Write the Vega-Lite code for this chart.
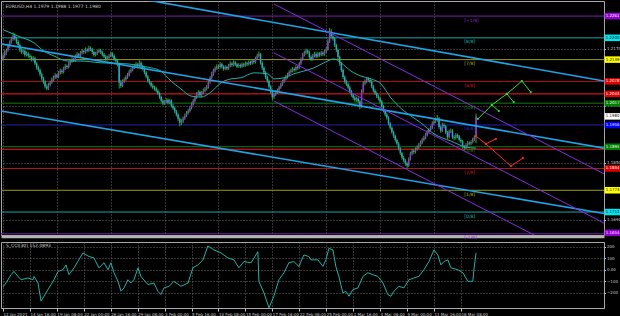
{
"$schema":"https://vega.github.io/schema/vega-lite/v6.json",
"background":"#000000",
"padding":{"left":0,"top":0,"right":0,"bottom":4},
"spacing":0,
"config":{"view":{"stroke":"#a8a8a8","strokeWidth":1},
"axis":{"gridColor":"#8a8a8a","gridDash":[1,2],"gridOpacity":0.75,"labelColor":"#c8c8c8","labelFont":"DejaVu Sans","labelFontSize":4,"tickColor":"#c8c8c8","domainColor":"#a8a8a8"}},
"datasets":{
"px":[
{"b":0,"o":1.2140,"h":1.2156,"l":1.2135,"c":1.2149},{"b":1,"o":1.2149,"h":1.2165,"l":1.2144,"c":1.2158},{"b":2,"o":1.2158,"h":1.2170,"l":1.2152,"c":1.2166},{"b":3,"o":1.2166,"h":1.2184,"l":1.2161,"c":1.2177},{"b":4,"o":1.2177,"h":1.2193,"l":1.2172,"c":1.2188},{"b":5,"o":1.2188,"h":1.2203,"l":1.2184,"c":1.2197},{"b":6,"o":1.2197,"h":1.2215,"l":1.2192,"c":1.2206},{"b":7,"o":1.2206,"h":1.2212,"l":1.2193,"c":1.2198},{"b":8,"o":1.2198,"h":1.2203,"l":1.2183,"c":1.2189},{"b":9,"o":1.2189,"h":1.2194,"l":1.2174,"c":1.2180},
{"b":10,"o":1.2180,"h":1.2184,"l":1.2160,"c":1.2166},{"b":11,"o":1.2166,"h":1.2171,"l":1.2155,"c":1.2160},{"b":12,"o":1.2160,"h":1.2169,"l":1.2154,"c":1.2163},{"b":13,"o":1.2163,"h":1.2167,"l":1.2147,"c":1.2152},{"b":14,"o":1.2152,"h":1.2162,"l":1.2148,"c":1.2156},{"b":15,"o":1.2156,"h":1.2160,"l":1.2144,"c":1.2150},{"b":16,"o":1.2150,"h":1.2155,"l":1.2141,"c":1.2146},{"b":17,"o":1.2146,"h":1.2150,"l":1.2134,"c":1.2140},{"b":18,"o":1.2140,"h":1.2149,"l":1.2135,"c":1.2143},{"b":19,"o":1.2143,"h":1.2147,"l":1.2123,"c":1.2128},
{"b":20,"o":1.2128,"h":1.2132,"l":1.2111,"c":1.2117},{"b":21,"o":1.2117,"h":1.2122,"l":1.2105,"c":1.2110},{"b":22,"o":1.2110,"h":1.2114,"l":1.2092,"c":1.2098},{"b":23,"o":1.2098,"h":1.2103,"l":1.2080,"c":1.2086},{"b":24,"o":1.2086,"h":1.2091,"l":1.2071,"c":1.2077},{"b":25,"o":1.2077,"h":1.2081,"l":1.2058,"c":1.2064},{"b":26,"o":1.2064,"h":1.2070,"l":1.2053,"c":1.2058},{"b":27,"o":1.2058,"h":1.2074,"l":1.2054,"c":1.2069},{"b":28,"o":1.2069,"h":1.2080,"l":1.2064,"c":1.2075},{"b":29,"o":1.2075,"h":1.2089,"l":1.2071,"c":1.2083},
{"b":30,"o":1.2083,"h":1.2094,"l":1.2078,"c":1.2088},{"b":31,"o":1.2088,"h":1.2101,"l":1.2084,"c":1.2095},{"b":32,"o":1.2095,"h":1.2099,"l":1.2086,"c":1.2091},{"b":33,"o":1.2091,"h":1.2107,"l":1.2087,"c":1.2102},{"b":34,"o":1.2102,"h":1.2114,"l":1.2097,"c":1.2108},{"b":35,"o":1.2108,"h":1.2112,"l":1.2099,"c":1.2104},{"b":36,"o":1.2104,"h":1.2119,"l":1.2100,"c":1.2114},{"b":37,"o":1.2114,"h":1.2127,"l":1.2110,"c":1.2121},{"b":38,"o":1.2121,"h":1.2125,"l":1.2113,"c":1.2118},{"b":39,"o":1.2118,"h":1.2133,"l":1.2114,"c":1.2128},
{"b":40,"o":1.2128,"h":1.2140,"l":1.2123,"c":1.2134},{"b":41,"o":1.2134,"h":1.2146,"l":1.2130,"c":1.2140},{"b":42,"o":1.2140,"h":1.2144,"l":1.2132,"c":1.2137},{"b":43,"o":1.2137,"h":1.2153,"l":1.2133,"c":1.2148},{"b":44,"o":1.2148,"h":1.2160,"l":1.2143,"c":1.2154},{"b":45,"o":1.2154,"h":1.2158,"l":1.2145,"c":1.2150},{"b":46,"o":1.2150,"h":1.2163,"l":1.2146,"c":1.2158},{"b":47,"o":1.2158,"h":1.2169,"l":1.2153,"c":1.2163},{"b":48,"o":1.2163,"h":1.2167,"l":1.2155,"c":1.2160},{"b":49,"o":1.2160,"h":1.2173,"l":1.2156,"c":1.2167},
{"b":50,"o":1.2167,"h":1.2171,"l":1.2159,"c":1.2164},{"b":51,"o":1.2164,"h":1.2178,"l":1.2160,"c":1.2171},{"b":52,"o":1.2171,"h":1.2176,"l":1.2163,"c":1.2168},{"b":53,"o":1.2168,"h":1.2172,"l":1.2155,"c":1.2160},{"b":54,"o":1.2160,"h":1.2164,"l":1.2147,"c":1.2152},{"b":55,"o":1.2152,"h":1.2161,"l":1.2148,"c":1.2156},{"b":56,"o":1.2156,"h":1.2166,"l":1.2152,"c":1.2161},{"b":57,"o":1.2161,"h":1.2170,"l":1.2157,"c":1.2165},{"b":58,"o":1.2165,"h":1.2169,"l":1.2155,"c":1.2160},{"b":59,"o":1.2160,"h":1.2164,"l":1.2148,"c":1.2153},
{"b":60,"o":1.2153,"h":1.2157,"l":1.2143,"c":1.2148},{"b":61,"o":1.2148,"h":1.2152,"l":1.2136,"c":1.2141},{"b":62,"o":1.2141,"h":1.2150,"l":1.2137,"c":1.2145},{"b":63,"o":1.2145,"h":1.2155,"l":1.2141,"c":1.2150},{"b":64,"o":1.2150,"h":1.2161,"l":1.2146,"c":1.2156},{"b":65,"o":1.2156,"h":1.2160,"l":1.2145,"c":1.2150},{"b":66,"o":1.2150,"h":1.2154,"l":1.2136,"c":1.2141},{"b":67,"o":1.2141,"h":1.2145,"l":1.2130,"c":1.2135},{"b":68,"o":1.2135,"h":1.2139,"l":1.2120,"c":1.2126},{"b":69,"o":1.2126,"h":1.2130,"l":1.2058,"c":1.2075},
{"b":70,"o":1.2075,"h":1.2082,"l":1.2060,"c":1.2066},{"b":71,"o":1.2066,"h":1.2084,"l":1.2062,"c":1.2079},{"b":72,"o":1.2079,"h":1.2089,"l":1.2074,"c":1.2083},{"b":73,"o":1.2083,"h":1.2095,"l":1.2079,"c":1.2090},{"b":74,"o":1.2090,"h":1.2102,"l":1.2085,"c":1.2096},{"b":75,"o":1.2096,"h":1.2111,"l":1.2092,"c":1.2106},{"b":76,"o":1.2106,"h":1.2116,"l":1.2101,"c":1.2110},{"b":77,"o":1.2110,"h":1.2122,"l":1.2106,"c":1.2117},{"b":78,"o":1.2117,"h":1.2127,"l":1.2112,"c":1.2121},{"b":79,"o":1.2121,"h":1.2132,"l":1.2117,"c":1.2126},
{"b":80,"o":1.2126,"h":1.2130,"l":1.2117,"c":1.2122},{"b":81,"o":1.2122,"h":1.2137,"l":1.2118,"c":1.2130},{"b":82,"o":1.2130,"h":1.2134,"l":1.2115,"c":1.2120},{"b":83,"o":1.2120,"h":1.2125,"l":1.2109,"c":1.2114},{"b":84,"o":1.2114,"h":1.2118,"l":1.2098,"c":1.2103},{"b":85,"o":1.2103,"h":1.2107,"l":1.2087,"c":1.2092},{"b":86,"o":1.2092,"h":1.2096,"l":1.2075,"c":1.2080},{"b":87,"o":1.2080,"h":1.2085,"l":1.2069,"c":1.2074},{"b":88,"o":1.2074,"h":1.2078,"l":1.2061,"c":1.2066},{"b":89,"o":1.2066,"h":1.2071,"l":1.2056,"c":1.2061},
{"b":90,"o":1.2061,"h":1.2066,"l":1.2052,"c":1.2058},{"b":91,"o":1.2058,"h":1.2063,"l":1.2047,"c":1.2052},{"b":92,"o":1.2052,"h":1.2056,"l":1.2040,"c":1.2045},{"b":93,"o":1.2045,"h":1.2049,"l":1.2029,"c":1.2034},{"b":94,"o":1.2034,"h":1.2038,"l":1.2019,"c":1.2024},{"b":95,"o":1.2024,"h":1.2028,"l":1.2011,"c":1.2016},{"b":96,"o":1.2016,"h":1.2026,"l":1.2012,"c":1.2021},{"b":97,"o":1.2021,"h":1.2031,"l":1.2017,"c":1.2026},{"b":98,"o":1.2026,"h":1.2030,"l":1.2013,"c":1.2018},{"b":99,"o":1.2018,"h":1.2029,"l":1.2014,"c":1.2024},
{"b":100,"o":1.2024,"h":1.2028,"l":1.2005,"c":1.2010},{"b":101,"o":1.2010,"h":1.2015,"l":1.1998,"c":1.2003},{"b":102,"o":1.2003,"h":1.2007,"l":1.1989,"c":1.1994},{"b":103,"o":1.1994,"h":1.1998,"l":1.1980,"c":1.1985},{"b":104,"o":1.1985,"h":1.1989,"l":1.1967,"c":1.1973},{"b":105,"o":1.1973,"h":1.1977,"l":1.1952,"c":1.1962},{"b":106,"o":1.1962,"h":1.1972,"l":1.1956,"c":1.1966},{"b":107,"o":1.1966,"h":1.1980,"l":1.1961,"c":1.1975},{"b":108,"o":1.1975,"h":1.1988,"l":1.1970,"c":1.1982},{"b":109,"o":1.1982,"h":1.1995,"l":1.1978,"c":1.1989},
{"b":110,"o":1.1989,"h":1.2001,"l":1.1985,"c":1.1995},{"b":111,"o":1.1995,"h":1.2008,"l":1.1991,"c":1.2003},{"b":112,"o":1.2003,"h":1.2019,"l":1.1999,"c":1.2014},{"b":113,"o":1.2014,"h":1.2029,"l":1.2010,"c":1.2023},{"b":114,"o":1.2023,"h":1.2038,"l":1.2019,"c":1.2033},{"b":115,"o":1.2033,"h":1.2048,"l":1.2029,"c":1.2042},{"b":116,"o":1.2042,"h":1.2054,"l":1.2037,"c":1.2048},{"b":117,"o":1.2048,"h":1.2052,"l":1.2034,"c":1.2039},{"b":118,"o":1.2039,"h":1.2051,"l":1.2035,"c":1.2046},{"b":119,"o":1.2046,"h":1.2058,"l":1.2042,"c":1.2052},
{"b":120,"o":1.2052,"h":1.2063,"l":1.2047,"c":1.2057},{"b":121,"o":1.2057,"h":1.2068,"l":1.2052,"c":1.2062},{"b":122,"o":1.2062,"h":1.2081,"l":1.2058,"c":1.2076},{"b":123,"o":1.2076,"h":1.2093,"l":1.2071,"c":1.2088},{"b":124,"o":1.2088,"h":1.2105,"l":1.2084,"c":1.2099},{"b":125,"o":1.2099,"h":1.2114,"l":1.2094,"c":1.2108},{"b":126,"o":1.2108,"h":1.2120,"l":1.2103,"c":1.2114},{"b":127,"o":1.2114,"h":1.2126,"l":1.2110,"c":1.2120},{"b":128,"o":1.2120,"h":1.2125,"l":1.2113,"c":1.2118},{"b":129,"o":1.2118,"h":1.2132,"l":1.2114,"c":1.2126},
{"b":130,"o":1.2126,"h":1.2130,"l":1.2114,"c":1.2119},{"b":131,"o":1.2119,"h":1.2123,"l":1.2108,"c":1.2113},{"b":132,"o":1.2113,"h":1.2123,"l":1.2109,"c":1.2118},{"b":133,"o":1.2118,"h":1.2122,"l":1.2109,"c":1.2114},{"b":134,"o":1.2114,"h":1.2127,"l":1.2110,"c":1.2122},{"b":135,"o":1.2122,"h":1.2134,"l":1.2117,"c":1.2128},{"b":136,"o":1.2128,"h":1.2132,"l":1.2119,"c":1.2124},{"b":137,"o":1.2124,"h":1.2137,"l":1.2120,"c":1.2131},{"b":138,"o":1.2131,"h":1.2135,"l":1.2121,"c":1.2126},{"b":139,"o":1.2126,"h":1.2130,"l":1.2115,"c":1.2120},
{"b":140,"o":1.2120,"h":1.2129,"l":1.2116,"c":1.2124},{"b":141,"o":1.2124,"h":1.2128,"l":1.2115,"c":1.2120},{"b":142,"o":1.2120,"h":1.2131,"l":1.2116,"c":1.2126},{"b":143,"o":1.2126,"h":1.2130,"l":1.2118,"c":1.2123},{"b":144,"o":1.2123,"h":1.2134,"l":1.2119,"c":1.2129},{"b":145,"o":1.2129,"h":1.2133,"l":1.2121,"c":1.2126},{"b":146,"o":1.2126,"h":1.2137,"l":1.2122,"c":1.2132},{"b":147,"o":1.2132,"h":1.2136,"l":1.2124,"c":1.2129},{"b":148,"o":1.2129,"h":1.2141,"l":1.2125,"c":1.2136},{"b":149,"o":1.2136,"h":1.2140,"l":1.2127,"c":1.2132},
{"b":150,"o":1.2132,"h":1.2147,"l":1.2128,"c":1.2142},{"b":151,"o":1.2142,"h":1.2156,"l":1.2138,"c":1.2150},{"b":152,"o":1.2150,"h":1.2162,"l":1.2145,"c":1.2154},{"b":153,"o":1.2154,"h":1.2158,"l":1.2125,"c":1.2130},{"b":154,"o":1.2130,"h":1.2134,"l":1.2110,"c":1.2116},{"b":155,"o":1.2116,"h":1.2120,"l":1.2097,"c":1.2103},{"b":156,"o":1.2103,"h":1.2107,"l":1.2084,"c":1.2090},{"b":157,"o":1.2090,"h":1.2094,"l":1.2074,"c":1.2080},{"b":158,"o":1.2080,"h":1.2084,"l":1.2058,"c":1.2064},{"b":159,"o":1.2064,"h":1.2068,"l":1.2044,"c":1.2050},
{"b":160,"o":1.2050,"h":1.2054,"l":1.2025,"c":1.2034},{"b":161,"o":1.2034,"h":1.2047,"l":1.2029,"c":1.2042},{"b":162,"o":1.2042,"h":1.2053,"l":1.2037,"c":1.2048},{"b":163,"o":1.2048,"h":1.2058,"l":1.2043,"c":1.2053},{"b":164,"o":1.2053,"h":1.2066,"l":1.2049,"c":1.2061},{"b":165,"o":1.2061,"h":1.2074,"l":1.2057,"c":1.2069},{"b":166,"o":1.2069,"h":1.2083,"l":1.2065,"c":1.2078},{"b":167,"o":1.2078,"h":1.2089,"l":1.2073,"c":1.2084},{"b":168,"o":1.2084,"h":1.2096,"l":1.2080,"c":1.2091},{"b":169,"o":1.2091,"h":1.2102,"l":1.2086,"c":1.2096},
{"b":170,"o":1.2096,"h":1.2109,"l":1.2092,"c":1.2104},{"b":171,"o":1.2104,"h":1.2114,"l":1.2099,"c":1.2108},{"b":172,"o":1.2108,"h":1.2118,"l":1.2103,"c":1.2113},{"b":173,"o":1.2113,"h":1.2117,"l":1.2105,"c":1.2110},{"b":174,"o":1.2110,"h":1.2123,"l":1.2106,"c":1.2118},{"b":175,"o":1.2118,"h":1.2122,"l":1.2111,"c":1.2116},{"b":176,"o":1.2116,"h":1.2133,"l":1.2112,"c":1.2128},{"b":177,"o":1.2128,"h":1.2145,"l":1.2124,"c":1.2140},{"b":178,"o":1.2140,"h":1.2158,"l":1.2136,"c":1.2153},{"b":179,"o":1.2153,"h":1.2164,"l":1.2148,"c":1.2158},
{"b":180,"o":1.2158,"h":1.2170,"l":1.2153,"c":1.2164},{"b":181,"o":1.2164,"h":1.2168,"l":1.2155,"c":1.2160},{"b":182,"o":1.2160,"h":1.2164,"l":1.2141,"c":1.2146},{"b":183,"o":1.2146,"h":1.2151,"l":1.2135,"c":1.2140},{"b":184,"o":1.2140,"h":1.2155,"l":1.2136,"c":1.2150},{"b":185,"o":1.2150,"h":1.2161,"l":1.2145,"c":1.2155},{"b":186,"o":1.2155,"h":1.2159,"l":1.2143,"c":1.2148},{"b":187,"o":1.2148,"h":1.2161,"l":1.2144,"c":1.2156},{"b":188,"o":1.2156,"h":1.2160,"l":1.2147,"c":1.2152},{"b":189,"o":1.2152,"h":1.2163,"l":1.2148,"c":1.2158},
{"b":190,"o":1.2158,"h":1.2162,"l":1.2149,"c":1.2154},{"b":191,"o":1.2154,"h":1.2167,"l":1.2150,"c":1.2162},{"b":192,"o":1.2162,"h":1.2174,"l":1.2157,"c":1.2168},{"b":193,"o":1.2168,"h":1.2196,"l":1.2164,"c":1.2190},{"b":194,"o":1.2190,"h":1.2228,"l":1.2186,"c":1.2218},{"b":195,"o":1.2218,"h":1.2224,"l":1.2198,"c":1.2204},{"b":196,"o":1.2204,"h":1.2210,"l":1.2192,"c":1.2198},{"b":197,"o":1.2198,"h":1.2202,"l":1.2174,"c":1.2180},{"b":198,"o":1.2180,"h":1.2184,"l":1.2160,"c":1.2166},{"b":199,"o":1.2166,"h":1.2170,"l":1.2140,"c":1.2146},
{"b":200,"o":1.2146,"h":1.2150,"l":1.2122,"c":1.2128},{"b":201,"o":1.2128,"h":1.2132,"l":1.2104,"c":1.2110},{"b":202,"o":1.2110,"h":1.2114,"l":1.2084,"c":1.2090},{"b":203,"o":1.2090,"h":1.2095,"l":1.2072,"c":1.2078},{"b":204,"o":1.2078,"h":1.2083,"l":1.2065,"c":1.2070},{"b":205,"o":1.2070,"h":1.2075,"l":1.2056,"c":1.2061},{"b":206,"o":1.2061,"h":1.2065,"l":1.2045,"c":1.2050},{"b":207,"o":1.2050,"h":1.2054,"l":1.2035,"c":1.2040},{"b":208,"o":1.2040,"h":1.2045,"l":1.2027,"c":1.2032},{"b":209,"o":1.2032,"h":1.2037,"l":1.2021,"c":1.2026},
{"b":210,"o":1.2026,"h":1.2035,"l":1.2021,"c":1.2030},{"b":211,"o":1.2030,"h":1.2034,"l":1.2017,"c":1.2022},{"b":212,"o":1.2022,"h":1.2026,"l":1.2000,"c":1.2008},{"b":213,"o":1.2008,"h":1.2056,"l":1.2004,"c":1.2050},{"b":214,"o":1.2050,"h":1.2078,"l":1.2046,"c":1.2072},{"b":215,"o":1.2072,"h":1.2084,"l":1.2067,"c":1.2078},{"b":216,"o":1.2078,"h":1.2090,"l":1.2073,"c":1.2086},{"b":217,"o":1.2086,"h":1.2090,"l":1.2077,"c":1.2082},{"b":218,"o":1.2082,"h":1.2087,"l":1.2073,"c":1.2078},{"b":219,"o":1.2078,"h":1.2082,"l":1.2059,"c":1.2064},
{"b":220,"o":1.2064,"h":1.2068,"l":1.2047,"c":1.2052},{"b":221,"o":1.2052,"h":1.2057,"l":1.2040,"c":1.2045},{"b":222,"o":1.2045,"h":1.2049,"l":1.2031,"c":1.2036},{"b":223,"o":1.2036,"h":1.2041,"l":1.2025,"c":1.2030},{"b":224,"o":1.2030,"h":1.2035,"l":1.2017,"c":1.2022},{"b":225,"o":1.2022,"h":1.2026,"l":1.2003,"c":1.2008},{"b":226,"o":1.2008,"h":1.2012,"l":1.1991,"c":1.1996},{"b":227,"o":1.1996,"h":1.2000,"l":1.1980,"c":1.1985},{"b":228,"o":1.1985,"h":1.1990,"l":1.1971,"c":1.1976},{"b":229,"o":1.1976,"h":1.1980,"l":1.1955,"c":1.1960},
{"b":230,"o":1.1960,"h":1.1964,"l":1.1943,"c":1.1948},{"b":231,"o":1.1948,"h":1.1952,"l":1.1931,"c":1.1936},{"b":232,"o":1.1936,"h":1.1940,"l":1.1920,"c":1.1925},{"b":233,"o":1.1925,"h":1.1929,"l":1.1909,"c":1.1914},{"b":234,"o":1.1914,"h":1.1918,"l":1.1899,"c":1.1904},{"b":235,"o":1.1904,"h":1.1908,"l":1.1885,"c":1.1890},{"b":236,"o":1.1890,"h":1.1894,"l":1.1872,"c":1.1877},{"b":237,"o":1.1877,"h":1.1881,"l":1.1859,"c":1.1864},{"b":238,"o":1.1864,"h":1.1869,"l":1.1851,"c":1.1856},{"b":239,"o":1.1856,"h":1.1861,"l":1.1842,"c":1.1848},
{"b":240,"o":1.1848,"h":1.1853,"l":1.1834,"c":1.1842},{"b":241,"o":1.1842,"h":1.1865,"l":1.1838,"c":1.1860},{"b":242,"o":1.1860,"h":1.1881,"l":1.1856,"c":1.1876},{"b":243,"o":1.1876,"h":1.1889,"l":1.1871,"c":1.1883},{"b":244,"o":1.1883,"h":1.1888,"l":1.1875,"c":1.1880},{"b":245,"o":1.1880,"h":1.1893,"l":1.1876,"c":1.1888},{"b":246,"o":1.1888,"h":1.1899,"l":1.1884,"c":1.1893},{"b":247,"o":1.1893,"h":1.1906,"l":1.1889,"c":1.1900},{"b":248,"o":1.1900,"h":1.1912,"l":1.1896,"c":1.1906},{"b":249,"o":1.1906,"h":1.1920,"l":1.1902,"c":1.1914},
{"b":250,"o":1.1914,"h":1.1926,"l":1.1910,"c":1.1920},{"b":251,"o":1.1920,"h":1.1934,"l":1.1916,"c":1.1928},{"b":252,"o":1.1928,"h":1.1942,"l":1.1924,"c":1.1936},{"b":253,"o":1.1936,"h":1.1948,"l":1.1932,"c":1.1942},{"b":254,"o":1.1942,"h":1.1954,"l":1.1938,"c":1.1948},{"b":255,"o":1.1948,"h":1.1966,"l":1.1944,"c":1.1960},{"b":256,"o":1.1960,"h":1.1972,"l":1.1956,"c":1.1966},{"b":257,"o":1.1966,"h":1.1977,"l":1.1961,"c":1.1970},{"b":258,"o":1.1970,"h":1.1984,"l":1.1965,"c":1.1974},{"b":259,"o":1.1974,"h":1.1978,"l":1.1945,"c":1.1950},
{"b":260,"o":1.1950,"h":1.1955,"l":1.1934,"c":1.1940},{"b":261,"o":1.1940,"h":1.1962,"l":1.1936,"c":1.1956},{"b":262,"o":1.1956,"h":1.1961,"l":1.1947,"c":1.1952},{"b":263,"o":1.1952,"h":1.1956,"l":1.1930,"c":1.1935},{"b":264,"o":1.1935,"h":1.1939,"l":1.1917,"c":1.1922},{"b":265,"o":1.1922,"h":1.1943,"l":1.1918,"c":1.1938},{"b":266,"o":1.1938,"h":1.1946,"l":1.1933,"c":1.1940},{"b":267,"o":1.1940,"h":1.1944,"l":1.1917,"c":1.1922},{"b":268,"o":1.1922,"h":1.1927,"l":1.1914,"c":1.1920},{"b":269,"o":1.1920,"h":1.1933,"l":1.1915,"c":1.1928},
{"b":270,"o":1.1928,"h":1.1932,"l":1.1919,"c":1.1924},{"b":271,"o":1.1924,"h":1.1928,"l":1.1909,"c":1.1914},{"b":272,"o":1.1914,"h":1.1919,"l":1.1905,"c":1.1910},{"b":273,"o":1.1910,"h":1.1914,"l":1.1890,"c":1.1895},{"b":274,"o":1.1895,"h":1.1900,"l":1.1886,"c":1.1892},{"b":275,"o":1.1892,"h":1.1905,"l":1.1888,"c":1.1900},{"b":276,"o":1.1900,"h":1.1911,"l":1.1896,"c":1.1906},{"b":277,"o":1.1906,"h":1.1910,"l":1.1899,"c":1.1904},{"b":278,"o":1.1904,"h":1.1913,"l":1.1899,"c":1.1908},{"b":279,"o":1.1908,"h":1.1920,"l":1.1904,"c":1.1915},
{"b":280,"o":1.1915,"h":1.1927,"l":1.1911,"c":1.1922},{"b":281,"o":1.1922,"h":1.1988,"l":1.1905,"c":1.1980}
],
"ma":[
{"b":0,"p":1.2223},{"b":8.9,"p":1.2205},{"b":18.4,"p":1.2186},{"b":24.3,"p":1.2163},{"b":30.3,"p":1.2149},{"b":38.6,"p":1.2135},{"b":46.3,"p":1.2135},{"b":58.2,"p":1.2130},{"b":74.2,"p":1.2127},{"b":81.9,"p":1.2121},{"b":87.9,"p":1.2116},{"b":93.8,"p":1.2107},{"b":99.8,"p":1.2079},{"b":105.7,"p":1.2057},{"b":111.6,"p":1.2037},{"b":117.6,"p":1.2034},{"b":123.5,"p":1.2048},{"b":129.5,"p":1.2074},{"b":135.4,"p":1.2085},{"b":141.3,"p":1.2088},{"b":149,"p":1.2102},{"b":157.4,"p":1.2099},{"b":160.9,"p":1.2085},{"b":166.9,"p":1.2088},{"b":172.8,"p":1.2099},{"b":178.7,"p":1.2107},{"b":184.7,"p":1.2116},{"b":190.6,"p":1.2130},{"b":196.6,"p":1.2141},{"b":200.7,"p":1.2130},{"b":206.7,"p":1.2107},{"b":212.6,"p":1.2093},{"b":218.5,"p":1.2085},{"b":224.5,"p":1.2071},{"b":230.4,"p":1.2032},{"b":236.3,"p":1.2003},{"b":242.3,"p":1.1981},{"b":248.2,"p":1.1962},{"b":256,"p":1.1931},{"b":266,"p":1.1911},{"b":274.9,"p":1.1894},{"b":280.9,"p":1.1891}
],
"tl":[
{"id":"A","b":81.9,"p":1.2309},{"id":"A","b":357,"p":1.2079},
{"id":"B","b":-1.2,"p":1.2183},{"id":"B","b":357,"p":1.1891},
{"id":"C","b":-1.2,"p":1.1995},{"id":"C","b":357,"p":1.1708}
],
"ch":[
{"id":"P1","b":160.9,"p":1.2295},{"id":"P1","b":357,"p":1.1819},
{"id":"P2","b":160.9,"p":1.2158},{"id":"P2","b":357,"p":1.1681},
{"id":"P3","b":160.9,"p":1.2023},{"id":"P3","b":357,"p":1.1547}
],
"fc":[
{"id":"g1","b":282.1,"p":1.1973},{"id":"g1","b":290.4,"p":1.2012},{"id":"g1","b":299.3,"p":1.2043},{"id":"g1","b":308.2,"p":1.2079},{"id":"g1","b":313.5,"p":1.2048},
{"id":"g2","b":290.4,"p":1.2012},{"id":"g2","b":294.5,"p":1.1995},
{"id":"g3","b":299.3,"p":1.2043},{"id":"g3","b":303.4,"p":1.2020},
{"id":"r1","b":280.9,"p":1.1925},{"id":"r1","b":286.8,"p":1.1903},{"id":"r1","b":292.8,"p":1.1917},
{"id":"r2","b":286.8,"p":1.1903},{"id":"r2","b":301.7,"p":1.1841},{"id":"r2","b":308.8,"p":1.1863}
],
"lv":[
{"n":"+1/8","t":"[+1/8]","p":1.2261},{"n":"8/8","t":"[8/8]","p":1.2200},{"n":"7/8","t":"[7/8]","p":1.2139},{"n":"6/8","t":"[6/8]","p":1.2078},{"n":"5/8","t":"[5/8]","p":1.2017},{"n":"4/8","t":"[4/8]","p":1.1956},{"n":"3/8","t":"[3/8]","p":1.1895},{"n":"2/8","t":"[2/8]","p":1.1834},{"n":"1/8","t":"[1/8]","p":1.1773},{"n":"0/8","t":"[0/8]","p":1.1712},{"n":"-1/8","t":"[-1/8]","p":1.1651},{"n":"R1","t":"","p":1.2043},{"n":"R2","t":"","p":1.1888}
],
"bx":[
{"n":"+1/8","p":1.2261},{"n":"8/8","p":1.2200},{"n":"7/8","p":1.2139},{"n":"6/8","p":1.2078},{"n":"R1","p":1.2043},{"n":"5/8","p":1.2017},{"n":"cur","p":1.1980},{"n":"4/8","p":1.1956},{"n":"3/8","p":1.1895},{"n":"2/8","p":1.1834},{"n":"1/8","p":1.1773},{"n":"0/8","p":1.1712},{"n":"-1/8","p":1.1654}
],
"cci":[
{"b":0,"v":-150},{"b":1.8,"v":-115},{"b":4.8,"v":-43},{"b":6.5,"v":-14},{"b":8.9,"v":-58},{"b":10.7,"v":-87},{"b":14.8,"v":-72},{"b":17.8,"v":-87},{"b":18.4,"v":-58},{"b":20.8,"v":-116},{"b":22.6,"v":-275},{"b":26.7,"v":-174},{"b":30.3,"v":-87},{"b":32.7,"v":-14},{"b":35.6,"v":0},{"b":37.4,"v":43},{"b":39.2,"v":-43},{"b":42.2,"v":17},{"b":47.5,"v":148},{"b":51.1,"v":116},{"b":54,"v":104},{"b":57,"v":17},{"b":60,"v":61},{"b":62.4,"v":0},{"b":64.1,"v":61},{"b":65.9,"v":-26},{"b":68.3,"v":-101},{"b":70.1,"v":-188},{"b":71.9,"v":-159},{"b":74.2,"v":-87},{"b":76,"v":-116},{"b":77.8,"v":-87},{"b":80.2,"v":17},{"b":81.9,"v":-58},{"b":86.1,"v":-130},{"b":89.7,"v":-116},{"b":92,"v":-188},{"b":93.8,"v":-217},{"b":95.6,"v":-159},{"b":98.6,"v":-145},{"b":101.5,"v":-101},{"b":105.7,"v":-145},{"b":109.9,"v":-116},{"b":112.8,"v":17},{"b":115.8,"v":43},{"b":118.8,"v":87},{"b":121.7,"v":209},{"b":125.3,"v":174},{"b":129.5,"v":148},{"b":133.6,"v":104},{"b":137.2,"v":87},{"b":140.1,"v":17},{"b":143.1,"v":72},{"b":147.3,"v":61},{"b":150.2,"v":130},{"b":151.4,"v":159},{"b":152,"v":-101},{"b":155,"v":-203},{"b":158,"v":-333},{"b":160.9,"v":-232},{"b":163.9,"v":-87},{"b":166.9,"v":-26},{"b":169.8,"v":61},{"b":172.8,"v":72},{"b":175.8,"v":29},{"b":178.7,"v":130},{"b":181.7,"v":116},{"b":182.9,"v":87},{"b":187.1,"v":87},{"b":190,"v":29},{"b":191.8,"v":87},{"b":193.6,"v":188},{"b":196,"v":174},{"b":197.7,"v":29},{"b":199.5,"v":-58},{"b":201.9,"v":-203},{"b":203.7,"v":-188},{"b":205.5,"v":-232},{"b":207.8,"v":-174},{"b":210.8,"v":-159},{"b":213.8,"v":-58},{"b":216.7,"v":-26},{"b":219.7,"v":-43},{"b":222.7,"v":-58},{"b":225.7,"v":-116},{"b":228.6,"v":-217},{"b":230.4,"v":-232},{"b":232.2,"v":-188},{"b":235.2,"v":-145},{"b":238.1,"v":-159},{"b":241.1,"v":-87},{"b":244.1,"v":-72},{"b":247,"v":-58},{"b":250,"v":0},{"b":253,"v":72},{"b":256,"v":174},{"b":258.3,"v":130},{"b":260.1,"v":43},{"b":261.9,"v":72},{"b":264.3,"v":87},{"b":266,"v":17},{"b":270.2,"v":0},{"b":273.2,"v":-26},{"b":276.1,"v":-101},{"b":279.1,"v":-101},{"b":279.7,"v":0},{"b":281,"v":148}
]
},
"vconcat":[
{
"width":603,"height":234,
"title":{"text":"EURUSD,H4  1.1979 1.1988 1.1977 1.1980","anchor":"start","offset":-7,"fontSize":4.5,"color":"#d0d0d0","font":"DejaVu Sans","fontWeight":"normal","dx":5},
"resolve":{"scale":{"color":"independent"}},
"layer":[
{"data":{"name":"lv"},"mark":{"type":"rule","strokeWidth":1},
"encoding":{
"y":{"field":"p","type":"quantitative","title":null,"scale":{"domain":[1.16477,1.23032],"nice":false,"zero":false},
"axis":{"orient":"right","values":[1.169,1.173,1.177,1.181,1.185,1.189,1.193,1.197,1.201,1.205,1.209,1.213,1.217,1.221,1.225,1.229],"format":".4f","grid":true,"tickSize":1.5,"labelPadding":1,"labelFontSize":4,"domain":false}},
"color":{"field":"n","type":"nominal","legend":null,"scale":{"domain":["+1/8","8/8","7/8","6/8","5/8","4/8","3/8","2/8","1/8","0/8","-1/8","R1","R2"],"range":["#7a1fb0","#1aa6a6","#9a9a18","#b01818","#127a12","#2020a8","#127a12","#b01818","#9a9a18","#1aa6a6","#7a1fb0","#ff1a1a","#ff1a1a"]}},
"strokeWidth":{"condition":{"test":"datum.n[0]==='R'","value":2},"value":1}}},
{"data":{"name":"px"},"mark":{"type":"rule","strokeWidth":0.9,"color":"#1ec81e"},
"encoding":{
"x":{"field":"b","type":"quantitative","title":null,"scale":{"domain":[-1.19,357],"nice":false,"zero":false},
"axis":{"values":[0,16,32,48,64,80,96,112,128,144,160,176,192,208,224,240,256,272],"labels":false,"ticks":false,"domain":true,"domainColor":"#b4b4b4","domainWidth":2.5,"offset":1.5,"grid":true}},
"y":{"field":"l","type":"quantitative","title":null},"y2":{"field":"h"}}},
{"data":{"name":"px"},"mark":{"type":"rule","strokeWidth":1.5},
"encoding":{
"x":{"field":"b","type":"quantitative","title":null},
"y":{"field":"o","type":"quantitative","title":null},"y2":{"field":"c"},
"color":{"condition":{"test":"datum.c>=datum.o","value":"#a030e0"},"value":"#2aa3e6"}}},
{"data":{"name":"ma"},"mark":{"type":"line","strokeWidth":1,"color":"#20b2aa","interpolate":"monotone"},
"encoding":{"x":{"field":"b","type":"quantitative","title":null},"y":{"field":"p","type":"quantitative","title":null}}},
{"data":{"name":"tl"},"mark":{"type":"line","strokeWidth":1.6,"color":"#1fa3e8","clip":true},
"encoding":{"x":{"field":"b","type":"quantitative","title":null},"y":{"field":"p","type":"quantitative","title":null},"detail":{"field":"id"}}},
{"data":{"name":"ch"},"mark":{"type":"line","strokeWidth":1,"color":"#8a2be2","clip":true},
"encoding":{"x":{"field":"b","type":"quantitative","title":null},"y":{"field":"p","type":"quantitative","title":null},"detail":{"field":"id"}}},
{"data":{"name":"fc"},"mark":{"type":"line","strokeWidth":1},
"encoding":{"x":{"field":"b","type":"quantitative","title":null},"y":{"field":"p","type":"quantitative","title":null},"detail":{"field":"id"},
"color":{"condition":{"test":"datum.id[0]==='g'","value":"#33e033"},"value":"#ff2a2a"}}},
{"data":{"name":"fc"},"mark":{"type":"point","filled":true,"size":5,"opacity":1},
"encoding":{"x":{"field":"b","type":"quantitative","title":null},"y":{"field":"p","type":"quantitative","title":null},
"color":{"condition":{"test":"datum.id[0]==='g'","value":"#33e033"},"value":"#ff2a2a"}}},
{"data":{"name":"lv"},"mark":{"type":"text","fontSize":4.5,"align":"left","baseline":"top","dy":1.5,"font":"DejaVu Sans"},
"encoding":{"x":{"datum":274},"y":{"field":"p","type":"quantitative","title":null},"text":{"field":"t"},
"color":{"field":"n","type":"nominal","legend":null,"scale":{"domain":["+1/8","8/8","7/8","6/8","5/8","4/8","3/8","2/8","1/8","0/8","-1/8","R1","R2"],"range":["#8a2fc8","#20b8b8","#b0b020","#c82020","#1a8a1a","#3030c0","#1a8a1a","#c82020","#b0b020","#20b8b8","#8a2fc8","#ff2020","#ff2020"]}}}},
{"data":{"name":"bx"},"mark":{"type":"rule","strokeWidth":6.5,"strokeCap":"butt"},
"encoding":{"x":{"datum":357.4},"x2":{"datum":367.2},"y":{"field":"p","type":"quantitative","title":null},
"color":{"field":"n","type":"nominal","legend":null,"scale":{"domain":["+1/8","8/8","7/8","6/8","R1","5/8","cur","4/8","3/8","2/8","1/8","0/8","-1/8"],"range":["#9400d3","#00e5ee","#ffff00","#e00000","#e00000","#008000","#ffffff","#0000ff","#008000","#e00000","#ffff00","#00e5ee","#9400d3"]}}}},
{"data":{"name":"bx"},"mark":{"type":"text","fontSize":3.9,"align":"left","baseline":"middle","font":"DejaVu Sans"},
"encoding":{"x":{"datum":358.1},"y":{"field":"p","type":"quantitative","title":null},"text":{"field":"p","type":"quantitative","format":".4f"},
"color":{"condition":{"test":"indexof(['8/8','7/8','cur','1/8','0/8'],datum.n)>=0","value":"#000000"},"value":"#ffffff"}}}
]
},
{
"width":603,"height":66,
"title":{"text":"S_CCI(30) 152.0893","anchor":"start","offset":-5,"fontSize":4.5,"color":"#d0d0d0","font":"DejaVu Sans","fontWeight":"normal","dx":5},
"data":{"name":"cci"},
"mark":{"type":"line","strokeWidth":1,"color":"#20b2aa"},
"encoding":{
"x":{"field":"b","type":"quantitative","title":null,"scale":{"domain":[-1.19,357],"nice":false,"zero":false},
"axis":{"values":[0,16,32,48,64,80,96,112,128,144,160,176,192,208,224,240,256,272],"labelExpr":"['12 Jan 2021','14 Jan 16:00','19 Jan 08:00','22 Jan 00:00','26 Jan 16:00','29 Jan 08:00','3 Feb 00:00','5 Feb 16:00','10 Feb 08:00','15 Feb 00:00','17 Feb 16:00','22 Feb 08:00','25 Feb 00:00','1 Mar 16:00','4 Mar 08:00','9 Mar 00:00','11 Mar 16:00','16 Mar 08:00'][round(datum.value/16)]","labelAlign":"left","labelFontSize":4,"tickSize":3,"labelPadding":1,"grid":true,"domain":true,"labelOverlap":false,"labelFlush":false}},
"y":{"field":"v","type":"quantitative","title":null,"scale":{"domain":[-335,243.5],"nice":false,"zero":false},
"axis":{"orient":"right","values":[200,100,0,-100,-200],"labelExpr":"datum.value===0?'0.00':datum.label","grid":true,"tickSize":1.5,"labelPadding":1,"labelFontSize":4,"domain":false}}}
}
]
}
